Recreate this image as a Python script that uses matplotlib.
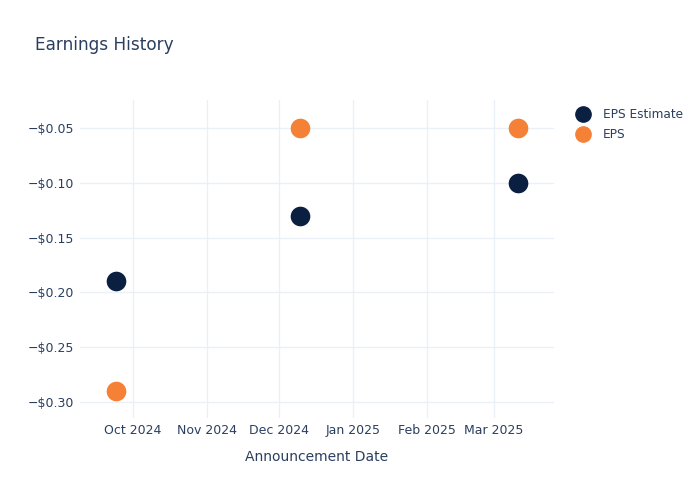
import matplotlib
matplotlib.use("Agg")
import matplotlib.pyplot as plt
import matplotlib.dates as mdates
import matplotlib.ticker as mticker
from matplotlib.lines import Line2D
import numpy as np

# data
dates = np.array(["2024-09-24", "2024-12-10", "2025-03-11"], dtype="datetime64[D]")
eps_estimate = [-0.19, -0.13, -0.10]
eps_actual = [-0.29, -0.05, -0.05]
series_names = ["EPS Estimate", "EPS"]

NAVY = "#0b1f41"
ORANGE = "#f58137"
TEXT = "#2a3f5f"
GRID = "#ebf0f8"

plt.rcParams["font.family"] = ["DejaVu Sans"]

fig = plt.figure(figsize=(7, 5), dpi=100, facecolor="white")
ax = fig.add_axes([80 / 700, 1 - 418 / 500, (554 - 80) / 700, (418 - 100) / 500])

x = dates.astype("datetime64[ms]").astype(object)
ax.scatter(x, eps_estimate, s=200, color=NAVY, zorder=3, linewidths=0)
ax.scatter(x, eps_actual, s=200, color=ORANGE, zorder=3, linewidths=0)

ax.set_xlim(np.datetime64("2024-09-09").astype(object), np.datetime64("2025-03-26").astype(object))
ax.set_ylim(-0.3146, -0.0245)

ax.xaxis.set_major_locator(mdates.MonthLocator())
ax.xaxis.set_major_formatter(mdates.DateFormatter("%b %Y"))
ax.yaxis.set_major_locator(mticker.MultipleLocator(0.05))
ax.yaxis.set_major_formatter(
    mticker.FuncFormatter(lambda v, _: ("\u2212" if v < -1e-9 else "") + f"${abs(v):.2f}")
)

ax.grid(True, color=GRID, linewidth=1, zorder=0)
ax.set_axisbelow(True)
for s in ax.spines.values():
    s.set_visible(False)
ax.tick_params(axis="both", length=0, colors=TEXT, labelsize=9)
ax.tick_params(axis="x", pad=4)
ax.tick_params(axis="y", pad=4)

ax.set_xlabel("Announcement Date", fontsize=10, color=TEXT, labelpad=9.5)

fig.text(35 / 700, 1 - 44.5 / 500, "Earnings History", fontsize=12.2, color=TEXT,
         ha="left", va="center")

handles = [
    Line2D([], [], marker="o", linestyle="", markersize=11, color=NAVY, label=series_names[0]),
    Line2D([], [], marker="o", linestyle="", markersize=11, color=ORANGE, label=series_names[1]),
]
fig.legend(handles=handles, loc="upper left", bbox_to_anchor=(568 / 700, 1 - 103 / 500),
           frameon=False, fontsize=8.7, labelcolor=TEXT, handletextpad=0.9,
           labelspacing=0.6, borderaxespad=0, handlelength=1.6)

fig.savefig("out.png", dpi=100, facecolor="white")
